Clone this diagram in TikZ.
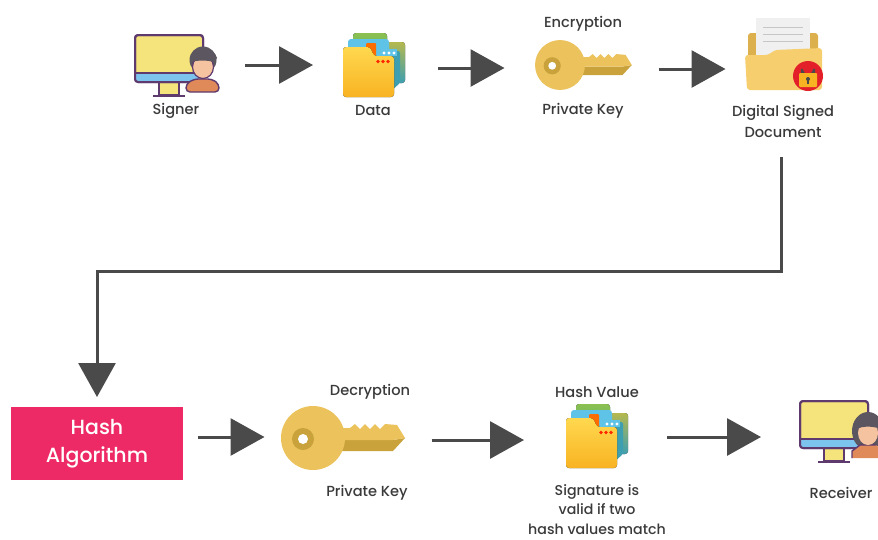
\documentclass[tikz,border=0pt]{standalone}
\usepackage{fontspec}
\setmainfont{Poppins Medium}
\usetikzlibrary{arrows.meta,shapes.geometric}
\definecolor{ink}{HTML}{3A3A3A}
\definecolor{arrowc}{HTML}{4A4A4A}
\definecolor{hashc}{HTML}{EE2A66}
\definecolor{purp}{HTML}{5E3A6E}
\definecolor{screen}{HTML}{F5E37C}
\definecolor{sky}{HTML}{7CC4EE}
\definecolor{peach}{HTML}{F6C3A0}
\definecolor{hairc}{HTML}{5C5660}
\definecolor{shirt}{HTML}{E08A5A}
\definecolor{keyl}{HTML}{EBC25C}
\definecolor{keyd}{HTML}{C9A23C}
\definecolor{foldl}{HTML}{F6CE6E}
\definecolor{foldd}{HTML}{DDB04E}
\definecolor{fy}{HTML}{FFD84F}
\definecolor{fo}{HTML}{F8B322}
\definecolor{gr1}{HTML}{8CC152}
\definecolor{gr2}{HTML}{4FA86A}
\definecolor{ol}{HTML}{B5B84E}
\definecolor{tl}{HTML}{3E9FB0}
\definecolor{bl}{HTML}{5FC3E8}
\definecolor{lockred}{HTML}{E3202A}
\tikzset{
  lbl/.style={font=\fontsize{14.6}{16}\selectfont,text=ink,inner sep=0pt,align=center},
  iconbox/.style={inner sep=0pt,outer sep=0pt,minimum width=#1,minimum height=30pt},
  flow/.style={draw=arrowc,line width=3pt,-{Triangle[length=34pt,width=37pt,fill=arrowc]}},
  hashbox/.style={fill=hashc,text=white,inner sep=0pt,outer sep=0pt,minimum width=172pt,minimum height=73pt,align=center,font=\fontsize{20.5}{28}\selectfont},
  monitor/.pic={
    \draw[purp,line width=2pt,fill=screen] (24,46) rectangle (44,60);
    \draw[purp,line width=2.4pt] (18,61) -- (50,61);
    \draw[purp,line width=2pt,fill=screen,rounded corners=3pt] (0,0) rectangle (68,47);
    \fill[sky,rounded corners=2pt] (1,38) rectangle (67,46);
    \draw[purp,line width=1.6pt] (0,38) -- (68,38);
    \draw[purp,line width=2pt,rounded corners=3pt] (0,0) rectangle (68,47);
  },
  folders/.pic={
    \fill[top color=gr1,bottom color=gr2,rounded corners=3pt] (10,-14) rectangle (44,20);
    \fill[top color=ol,bottom color=tl,rounded corners=3pt] (30,-5) rectangle (62,36);
    \fill[bl,rounded corners=3pt] (5,-8) rectangle (46,10);
    \fill[tl,rounded corners=2pt] (46,4) -- (57,4) -- (57,36) -- (46,46) -- cycle;
    \fill[orange!85!red,rounded corners=1pt] (23,-4) rectangle (33,9);
    \fill[bl] (36,2) rectangle (54,9);
    \foreach \dx in {41,46,51} \fill[white] (\dx,6) circle [radius=1.7];
    \fill[top color=fy,bottom color=fo,rounded corners=3pt]
      (0,0) -- (27,0) -- (31,9) -- (51,9) -- (51,50) -- (0,50) -- cycle;
    \foreach \dx in {35,40,45} \fill[red!70!orange] (\dx,14.5) circle [radius=1.8];
  },
  keyicon/.pic={
    \fill[keyd] (26,2) -- (80,2) -- (92,0) -- (80,13) -- (26,13) -- cycle;
    \fill[keyl] (20,-10) -- (37,-10) -- (42,-14) -- (47,-9) -- (52,-14) -- (57,-9) -- (62,-14) -- (67,-9) -- (72,-14)
      -- (84,-13) -- (92,0) -- (80,2) -- (20,2) -- cycle;
    \fill[keyl] (0,0) circle [radius=32];
    \fill[keyd] (-10,1) circle [radius=11];
    \fill[white] (-10,1) circle [radius=5];
  },
}
\begin{document}
\begin{tikzpicture}[x=1pt,y=-1pt]
\useasboundingbox (0,0) rectangle (878,539);

% signer icon
\pic at (135,35) {monitor};
\fill[hairc] (203,60) circle [radius=13.5];
\fill[shirt,rounded corners=4pt] (186,92) -- (186,84) -- (194,79) -- (212,79) -- (219,84) -- (219,92) -- cycle;
\draw[purp,line width=1.4pt,rounded corners=4pt] (186,92) -- (186,84) -- (194,79) -- (212,79) -- (219,84) -- (219,92) -- cycle;
\fill[peach] (203,67) ellipse [x radius=10.5,y radius=11.5];
\draw[purp,line width=1.2pt] (203,67) ellipse [x radius=10.5,y radius=11.5];
\fill[hairc] (191,62) .. controls (192,46) and (214,46) .. (217,58) -- (214,62) .. controls (207,60) and (199,60) .. (191,62) -- cycle;

% data icon
\pic at (343,47) {folders};

% keys
\pic[scale=0.78] at (560,65) {keyicon};
\pic at (313,438) {keyicon};

% signed document icon
\fill[foldd,rounded corners=3pt] (748,33) rectangle (818,70);
\fill[gray!12] (756,18) -- (810,18) -- (810,60) -- (756,60) -- cycle;
\foreach \yy in {27,34,41} \draw[gray!45,line width=1pt] (763,\yy) -- (803,\yy);
\fill[foldl,rounded corners=3pt] (745,55) -- (768,55) -- (775,50) -- (822,48) -- (822,90) -- (747,90) -- cycle;
\fill[lockred] (808,76) circle [radius=15];
\draw[arrowc,line width=2pt] (802,74) -- (802,69) arc [start angle=180,end angle=0,radius=6] -- (814,74);
\fill[fo,rounded corners=1pt] (799,73) rectangle (817,87);
\fill[arrowc] (808,79) circle [radius=2];
\draw[arrowc,line width=1.2pt] (808,79) -- (808,84);

% second folders icon
\pic at (566,418) {folders};

% receiver icon
\pic at (800,401) {monitor};
\fill[hairc] (868,431) ellipse [x radius=16,y radius=19];
\fill[shirt] (852,458) -- (852,451) -- (860,445) -- (876,445) -- (878,447) -- (878,458) -- cycle;
\draw[purp,line width=1.4pt] (852,458) -- (852,451) -- (860,445) -- (876,445);
\fill[peach] (868,433) ellipse [x radius=10,y radius=12];
\fill[hairc] (857,429) .. controls (860,415) and (876,415) .. (878,424) -- (878,428) .. controls (870,426) and (862,426) .. (857,429) -- cycle;

% named anchors
\node[iconbox=84pt] (signer) at (177,65) {};
\node[iconbox=62pt] (data) at (374,68) {};
\node[iconbox=97pt] (enckey) at (583,69) {};
\node[iconbox=77pt] (signdoc) at (783,69) {};
\node[iconbox=125pt] (deckey) at (342,440) {};
\node[iconbox=62pt] (hashval) at (592,437) {};
\node[iconbox=78pt] (receiver) at (839,437) {};
\node[hashbox] (hash) at (97,443.5) {Hash\\Algorithm};

% labels
\node[lbl] (lsigner) at (176,111) {Signer};
\node[lbl] (ldata) at (373,110) {Data};
\node[lbl] (lenc) at (583,24) {Encryption};
\node[lbl] (lpk) at (583,111) {Private Key};
\node[lbl,font=\fontsize{14.6}{21}\selectfont] (lsigned) at (783,121) {Digital Signed\\Document};
\node[lbl] (ldec) at (370,392) {Decryption};
\node[lbl] (lpk2) at (367,493) {Private Key};
\node[lbl] (lhv) at (597,392) {Hash Value};
\node[lbl,font=\fontsize{14.2}{19.5}\selectfont] (lsig) at (597,509.5) {Signature is\\valid if two\\hash values match};
\node[lbl] (lrec) at (841,493) {Receiver};

% connectors
\draw[flow] ([xshift=26pt]signer.east) -- ([xshift=-30pt]data.west |- signer.east);
\draw[flow] ([xshift=33pt]data.east) -- ([xshift=-30pt]enckey.west |- data.east);
\draw[flow] ([xshift=27pt]enckey.east) -- ([xshift=-19pt]signdoc.west |- enckey.east);
\coordinate (turn) at (781,271);
\draw[flow] ([xshift=-2pt,yshift=-20pt]lsigned.south) -- (turn) -- (turn -| hash.north) -- ([yshift=10pt]hash.north);
\draw[flow] ([xshift=15pt]hash.east |- 0,437) -- ([xshift=-15pt]deckey.west |- 0,437);
\draw[flow] ([xshift=27pt]deckey.east) -- ([xshift=-37pt]hashval.west |- deckey.east);
\draw[flow] ([xshift=44pt]hashval.east) -- ([xshift=-39pt]receiver.west |- hashval.east);
\end{tikzpicture}
\end{document}
